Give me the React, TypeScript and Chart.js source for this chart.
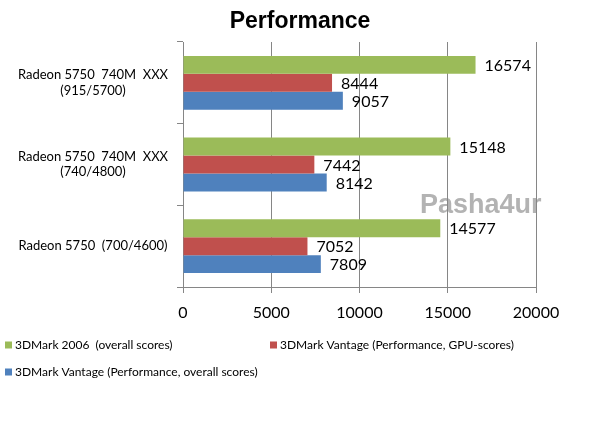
import React, { useEffect, useRef } from "react";
import { Chart, registerables } from "chart.js";

Chart.register(...registerables);

const categories: string[][] = [
  ["Radeon 5750  740M  XXX", "(915/5700)"],
  ["Radeon 5750  740M  XXX", "(740/4800)"],
  ["Radeon 5750  (700/4600)"],
];
const seriesNames = [
  "3DMark 2006  (overall scores)",
  "3DMark Vantage (Performance, GPU-scores)",
  "3DMark Vantage (Performance, overall scores)",
];
const mark2006 = [16574, 15148, 14577];
const vantageGpu = [8444, 7442, 7052];
const vantageOverall = [9057, 8142, 7809];
const seriesColors = ["#9BBB59", "#C0504D", "#4F81BD"];
const xTicks = [0, 5000, 10000, 15000, 20000];
const titleText = "Performance";
const watermark = "Pasha4ur";

const FONT = "Lato, 'Open Sans', sans-serif";

const overlayPlugin = {
  id: "overlay",
  beforeDraw(chart: any) {
    const ctx = chart.ctx;
    ctx.save();
    ctx.font = "bold 27px 'Liberation Sans', Arial, sans-serif";
    ctx.fillStyle = "#b3b3b3";
    ctx.textBaseline = "middle";
    ctx.textAlign = "left";
    ctx.fillText(watermark, 420, 206);
    ctx.font = "bold 23px 'Liberation Sans', Arial, sans-serif";
    ctx.fillStyle = "#000";
    ctx.textAlign = "center";
    ctx.textBaseline = "alphabetic";
    ctx.fillText(titleText, 300, 28);
    ctx.restore();
  },
  afterDatasetsDraw(chart: any) {
    const ctx = chart.ctx;
    ctx.save();
    ctx.font = "16px " + FONT;
    ctx.fillStyle = "#000";
    ctx.textBaseline = "middle";
    ctx.textAlign = "left";
    chart.data.datasets.forEach((ds: any, i: number) => {
      const meta = chart.getDatasetMeta(i);
      meta.data.forEach((bar: any, j: number) => {
        ctx.fillText(String(ds.data[j]), bar.x + 9, bar.y + 1);
      });
    });
    ctx.restore();
  },
  afterDraw(chart: any) {
    const ctx = chart.ctx;
    ctx.save();
    ctx.font = "12px " + FONT;
    ctx.textBaseline = "middle";
    ctx.textAlign = "left";
    const pos = [
      [5, 345],
      [270, 345],
      [5, 372],
    ];
    chart.data.datasets.forEach((ds: any, i: number) => {
      const [x, y] = pos[i];
      ctx.fillStyle = ds.backgroundColor;
      ctx.fillRect(x, y - 3.5, 7, 7);
      ctx.fillStyle = "#000";
      ctx.fillText(ds.label, x + 10, y);
    });
    ctx.restore();
  },
};

export default function App() {
  const ref = useRef<HTMLCanvasElement | null>(null);
  useEffect(() => {
    if (!ref.current) return;
    const chart = new Chart(ref.current, {
      type: "bar",
      data: {
        labels: categories,
        datasets: [
          { label: seriesNames[0], data: mark2006, backgroundColor: seriesColors[0] },
          { label: seriesNames[1], data: vantageGpu, backgroundColor: seriesColors[1] },
          { label: seriesNames[2], data: vantageOverall, backgroundColor: seriesColors[2] },
        ],
      },
      options: {
        indexAxis: "y",
        responsive: false,
        animation: false,
        devicePixelRatio: 1,
        datasets: { bar: { categoryPercentage: 0.66, barPercentage: 1 } },
        layout: { padding: { left: 0, right: 74, top: 42, bottom: 0 } },
        plugins: {
          legend: { display: false },
          tooltip: { enabled: false },
          title: { display: false },
        },
        scales: {
          x: {
            type: "linear",
            min: 0,
            max: 20000,
            afterBuildTicks: (scale: any) => {
              scale.ticks = xTicks.map((v) => ({ value: v }));
            },
            afterFit: (scale: any) => {
              scale.height = 140;
            },
            grid: { color: "#868686", tickLength: 6, drawOnChartArea: true },
            border: { color: "#868686" },
            ticks: {
              color: "#000",
              font: { family: FONT, size: 16 },
              padding: 10,
              maxRotation: 0,
              callback: (v: any) => String(v),
            },
          },
          y: {
            type: "category",
            afterFit: (scale: any) => {
              scale.width = 183;
            },
            grid: { color: "#868686", drawOnChartArea: false, tickLength: 6, offset: true },
            border: { color: "#868686" },
            ticks: {
              color: "#000",
              font: { family: FONT, size: 13 },
              padding: 9,
              crossAlign: "center",
            },
          },
        },
      },
      plugins: [overlayPlugin],
    });
    return () => chart.destroy();
  }, []);
  return (
    <div style={{ position: "absolute", left: 0, top: 0, width: 610, height: 427, background: "#fff" }}>
      <canvas ref={ref} width={610} height={427} style={{ display: "block", width: 610, height: 427 }} />
    </div>
  );
}
